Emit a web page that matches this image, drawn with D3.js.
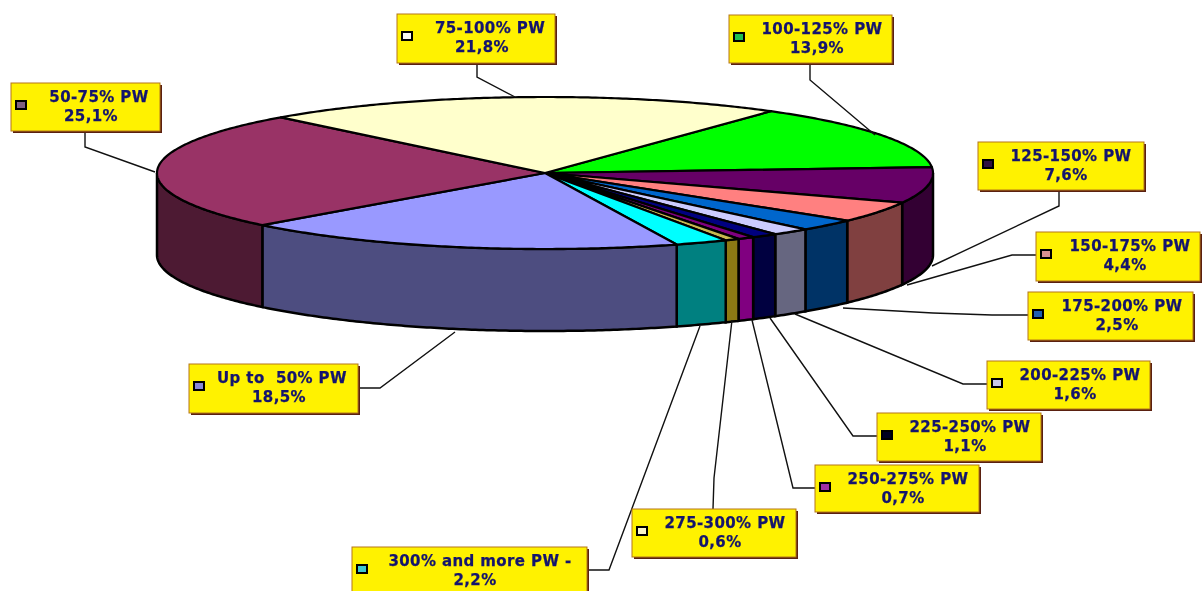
<!DOCTYPE html>
<html>
<head>
<meta charset="utf-8">
<script src="https://cdn.jsdelivr.net/npm/d3@7"></script>
<style>
  html, body { margin: 0; padding: 0; background: #fff; }
  svg { display: block; filter: blur(0.45px); }
  text { font-family: "DejaVu Sans", sans-serif; font-weight: bold; font-size: 15px; letter-spacing: 0.4px; fill: #14146e; stroke: #14146e; stroke-width: 0.25px; white-space: pre; }
</style>
</head>
<body>
<div id="graphic"></div>
<script>
const width = 1202;
const height = 591;

// data, clockwise from the 100-125% slice
const categories = ['100-125% PW', '125-150% PW', '150-175% PW', '175-200% PW', '200-225% PW', '225-250% PW',
  '250-275% PW', '275-300% PW', '300% and more PW -', 'Up to  50% PW', '50-75% PW', '75-100% PW'];
const values = [13.9, 7.6, 4.4, 2.5, 1.6, 1.1, 0.7, 0.6, 2.2, 18.5, 25.1, 21.8];
const valueLabels = ['13,9%', '7,6%', '4,4%', '2,5%', '1,6%', '1,1%', '0,7%', '0,6%', '2,2%', '18,5%', '25,1%', '21,8%'];

const topColors = ['#00ff00', '#660066', '#ff8080', '#0066cc', '#ccccff', '#000080',
  '#800080', '#c8b850', '#00ffff', '#9999ff', '#993366', '#ffffcc'];
const wallColors = ['#008000', '#330033', '#804040', '#003366', '#666680', '#000040',
  '#800080', '#8c7a14', '#008080', '#4d4d80', '#4d1a33', '#808066'];
const swatchColors = ['#20c050', '#301040', '#d89090', '#2060b0', '#c8c8e8', '#000020',
  '#a030a0', '#f8f4c8', '#40c8d0', '#8888d8', '#806080', '#f8f8f0'];

// label box layout: x, y, w, h, centre of line one, centre of line two
const boxes = [
  [729, 15, 163, 48, 822, 817], [978, 142, 166, 48, 1071, 1066], [1036, 232, 164, 49, 1130, 1125], [1028, 292, 165, 48, 1122, 1117],
  [987, 361, 163, 48, 1080, 1075], [877, 413, 164, 48, 970, 965], [815, 465, 164, 47, 908, 903], [632, 509, 164, 48, 725, 720],
  [352, 547, 235, 50, 480, 475], [189, 364, 169, 49, 282, 279], [11, 83, 149, 48, 99, 91], [397, 14, 158, 49, 490, 482]
];
const leaders = [
  [[810, 63], [810, 80], [875, 135]], [[1059, 190], [1059, 206], [932, 266]], [[1036, 255], [1012, 255], [907, 285]],
  [[1028, 315], [992, 315], [933, 313], [843, 308]], [[987, 384], [963, 384], [795, 314]], [[877, 436], [853, 436], [770, 318]],
  [[815, 488], [793, 488], [752, 320]], [[713, 509], [714, 478], [732, 320]], [[587, 570], [609, 570], [700, 326]],
  [[358, 388], [380, 388], [455, 332]], [[85, 131], [85, 147], [155, 172]], [[477, 63], [477, 77], [515, 97]]
];

const svg = d3.select('#graphic').append('svg')
  .attr('width', width)
  .attr('height', height);

const scaleX = d3.scaleLinear().domain([-1, 1]).range([157, 933]);
const scaleY = d3.scaleLinear().domain([-1, 1]).range([97, 249]);
const depth = 82;

const pie = d3.pie()
  .sort(null)
  .startAngle(35.6 * Math.PI / 180)
  .endAngle(395.6 * Math.PI / 180);
const slices = pie(values);

const line = d3.line().x(d => d[0]).y(d => d[1]);

// points along the rim, angle measured clockwise from north
function rim(a0, a1, offset) {
  const n = Math.max(2, Math.ceil((a1 - a0) / 0.01));
  return d3.range(n + 1).map(i => {
    const a = a0 + (a1 - a0) * i / n;
    return [scaleX(Math.sin(a)), scaleY(-Math.cos(a)) + offset];
  });
}

// the walls, only the front half of the disc shows
const front0 = Math.PI / 2;
const front1 = Math.PI * 1.5;
const wallSlices = slices.filter(d => d.endAngle > front0 && d.startAngle < front1);

svg.append('g').selectAll('path')
  .data(wallSlices)
  .enter()
  .append('path')
  .attr('d', d => {
    const a0 = Math.max(d.startAngle, front0);
    const a1 = Math.min(d.endAngle, front1);
    return line(rim(a0, a1, 0).concat(rim(a0, a1, depth).reverse())) + 'Z';
  })
  .attr('fill', d => wallColors[d.index])
  .attr('stroke', '#000')
  .attr('stroke-width', 2.5);

// top of the disc
svg.append('g').selectAll('path')
  .data(slices)
  .enter()
  .append('path')
  .attr('d', d => line([[scaleX(0), scaleY(0)]].concat(rim(d.startAngle, d.endAngle, 0))) + 'Z')
  .attr('fill', d => topColors[d.index])
  .attr('stroke', '#000')
  .attr('stroke-width', 2.2)
  .attr('stroke-linejoin', 'round');

// leader lines
svg.append('g').selectAll('path')
  .data(leaders)
  .enter()
  .append('path')
  .attr('d', line)
  .attr('fill', 'none')
  .attr('stroke', '#111')
  .attr('stroke-width', 1.4);

// labels
const label = svg.append('g').selectAll('g')
  .data(categories)
  .enter()
  .append('g');

label.append('rect')
  .attr('x', (d, i) => boxes[i][0] + 2)
  .attr('y', (d, i) => boxes[i][1] + 2)
  .attr('width', (d, i) => boxes[i][2])
  .attr('height', (d, i) => boxes[i][3])
  .attr('fill', '#5a2010');

label.append('rect')
  .attr('x', (d, i) => boxes[i][0])
  .attr('y', (d, i) => boxes[i][1])
  .attr('width', (d, i) => boxes[i][2])
  .attr('height', (d, i) => boxes[i][3])
  .attr('fill', '#fff200')
  .attr('stroke', '#b5761a')
  .attr('stroke-width', 1);

label.append('rect')
  .attr('x', (d, i) => boxes[i][0] + 5)
  .attr('y', (d, i) => boxes[i][1] + 18)
  .attr('width', 10)
  .attr('height', 8)
  .attr('fill', (d, i) => swatchColors[i])
  .attr('stroke', '#000')
  .attr('stroke-width', 2);

label.append('text')
  .attr('x', (d, i) => boxes[i][4])
  .attr('y', (d, i) => boxes[i][1] + 19)
  .attr('text-anchor', 'middle')
  .text(d => d);

label.append('text')
  .attr('x', (d, i) => boxes[i][5])
  .attr('y', (d, i) => boxes[i][1] + 38)
  .attr('text-anchor', 'middle')
  .text((d, i) => valueLabels[i]);
</script>
</body>
</html>
